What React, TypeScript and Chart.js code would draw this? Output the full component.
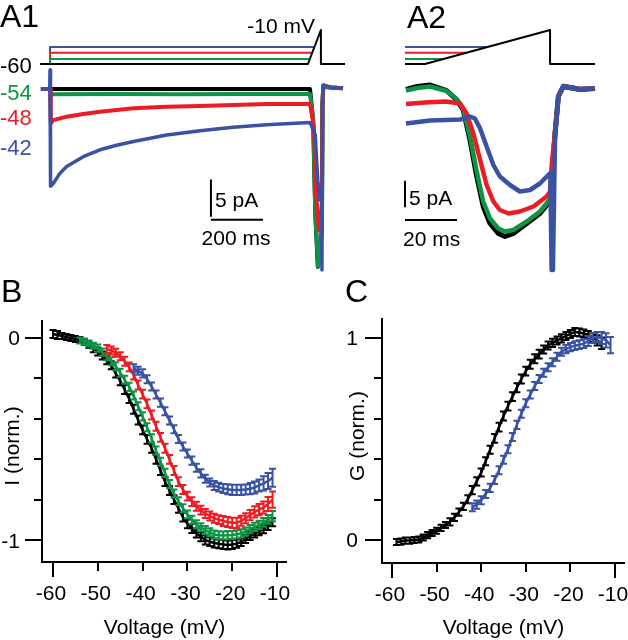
import React, { useEffect, useRef } from "react";
import { Chart, registerables } from "chart.js";

Chart.register(...registerables);

const FONT = '"Liberation Sans", Arial, Helvetica, sans-serif';
const COL_BLACK = "#000000";
const COL_GREEN = "#0d9444";
const COL_RED = "#ed1c24";
const COL_BLUE = "#3a52a3";

// ================= Panel A1 (time in ms, current in pA, command in mV) =================
const a1ProtoBlackT = [-38, 992, 1042, 1042, 1135];
const a1ProtoBlackV = [-60, -60, -10, -60, -60];
const a1ProtoGreenT = [0, 0, 999];
const a1ProtoGreenV = [-60, -52.6, -52.6];
const a1ProtoRedT = [0, 0, 1008];
const a1ProtoRedV = [-60, -43.6, -43.6];
const a1ProtoBlueT = [0, 0, 1017];
const a1ProtoBlueV = [-60, -35, -35];

const a1BlackT = [-35, 0, 250, 500, 750, 1000, 1012, 1020, 1030, 1040, 1046, 1048, 1051, 1080, 1127];
const a1BlackI = [0, 0, 0, 0, 0, 0, -4, -16, -23.4, -21, -18, -2, 0.3, 0.2, 0.1];
const a1GreenT = [-35, 0, 4, 250, 500, 750, 1000, 1012, 1021, 1031, 1040, 1046, 1048, 1051, 1080, 1127];
const a1GreenI = [0, 0, -0.7, -0.66, -0.7, -0.66, -0.66, -4, -17, -23.4, -21, -18, -2, 0.3, 0.2, 0.1];
const a1RedT = [-35, 0, 3, 13, 64, 128, 192, 321, 449, 577, 705, 833, 1000, 1015, 1024, 1034, 1042, 1046, 1048, 1051, 1080, 1127];
const a1RedI = [0, 0, -4.5, -4.1, -3.64, -3.3, -2.98, -2.54, -2.33, -2.24, -2.1, -1.97, -1.97, -5, -14, -18.6, -17, -15, -2, 0.5, 0.2, 0.1];
const a1BlueT = [-35, -1, 0, 2, 13, 38, 64, 128, 192, 256, 321, 449, 577, 705, 833, 1000, 1020, 1030, 1038, 1044, 1046, 1048, 1051, 1080, 1127];
const a1BlueI = [0, 0, 2.5, -12.8, -12.4, -11.1, -10.2, -8.9, -8.0, -7.4, -6.9, -6.05, -5.5, -5.04, -4.7, -4.4, -6, -12, -14.6, -13, -23.8, -2, 0.5, 0.2, 0.1];

const a1BarVT = [619, 619];
const a1BarVI = [-12, -16.7];
const a1BarHT = [619, 819];
const a1BarHI = [-17.2, -17.2];

const a1HoldLabels = ["-60", "-54", "-48", "-42"];

// ================= Panel A2 =================
const a2ProtoBlackT = [-7.7, 0, 48.1, 48.1, 65.4];
const a2ProtoBlackV = [-60, -60, -10, -60, -60];
const a2ProtoGreenT = [-7.7, 7.1];
const a2ProtoGreenV = [-52.6, -52.6];
const a2ProtoRedT = [-7.7, 15.8];
const a2ProtoRedV = [-43.6, -43.6];
const a2ProtoBlueT = [-7.7, 24.1];
const a2ProtoBlueV = [-35, -35];

const a2BlackT = [-7.3, -3, 2, 8.3, 12.2, 14.7, 17.3, 19.9, 22.4, 25, 28.2, 30.8, 34, 39.1, 44.2, 47.4, 48.3, 50, 51.3, 53.2, 59.6, 65.4];
const a2BlackI = [-0.3, 0.3, 0.6, -0.5, -2.4, -4.4, -10.4, -17.7, -23.7, -27.1, -29.1, -29.7, -29.1, -27.1, -25.1, -23.1, -22.5, -9.1, -1.7, 0.3, -0.3, -0.1];
const a2GreenT = [-7.3, -3, 2, 8.3, 12.2, 14.7, 17.3, 19.9, 22.4, 25, 28.2, 30.8, 34, 39.1, 44.2, 47.4, 48.3, 50, 51.3, 53.2, 59.6, 65.4];
const a2GreenI = [-0.5, 0, 0.3, -0.6, -2.2, -4.2, -9.7, -16.7, -22.7, -26.1, -28.1, -28.7, -28.4, -26.7, -24.7, -22.7, -22, -9, -1.7, 0.3, -0.3, -0.1];
const a2RedT = [-7.3, 0, 8, 13.5, 16, 18.6, 21.2, 23.7, 26.3, 28.8, 32.1, 36.5, 41.7, 46.8, 48.1, 48.8, 50, 51.3, 53.2, 59.6, 65.4];
const a2RedI = [-3.2, -2.9, -2.7, -3.1, -5.1, -9.1, -14.4, -19.4, -22.7, -24.4, -25.1, -24.7, -23.7, -21.7, -20.7, -15, -9, -1.7, 0.4, -0.2, -0.1];
const a2BlueT = [-7.3, 1.9, 13.5, 17.3, 19.2, 21.2, 23.7, 26.3, 28.8, 32.7, 36.5, 40.4, 44.2, 47.4, 48.2, 48.7, 49.2, 50, 51.3, 53.2, 59.6, 65.4];
const a2BlueI = [-7.1, -6.5, -6.3, -5.7, -6.1, -8.1, -11.7, -15.4, -17.7, -19.4, -20.7, -20.4, -19.1, -17.4, -17, -36.4, -36.4, -10.4, -1.7, 0.4, -0.2, -0.1];

const a2BarVT = [-7.7, -7.7];
const a2BarVI = [-18.7, -23.7];
const a2BarHT = [-7.7, 12.3];
const a2BarHI = [-26.4, -26.4];

// ================= Panel B: I (norm.) vs voltage =================
function range(a: number, b: number): number[] {
  const r: number[] = [];
  for (let v = a; v <= b; v++) r.push(v);
  return r;
}
const bBlackV = range(-60, -11);
const bBlackI = [0.02, 0.015, 0.01, 0.005, 0, -0.005, -0.01, -0.02, -0.033, -0.05,
  -0.067, -0.087, -0.11, -0.135, -0.175, -0.212, -0.255, -0.3, -0.353, -0.406,
  -0.455, -0.502, -0.546, -0.6, -0.656, -0.711, -0.755, -0.8, -0.843, -0.887,
  -0.92, -0.943, -0.965, -0.984, -1.0, -1.008, -1.015, -1.019, -1.022, -1.025,
  -1.022, -1.018, -1.01, -0.995, -0.98, -0.968, -0.957, -0.946, -0.93, -0.912];
const bBlackErr = [0.02, 0.02, 0.015, 0.015, 0.015, 0.015, 0.015, 0.015, 0.015, 0.02,
  0.02, 0.02, 0.02, 0.02, 0.02, 0.022, 0.022, 0.022, 0.022, 0.022,
  0.022, 0.022, 0.022, 0.022, 0.022, 0.022, 0.022, 0.022, 0.022, 0.022,
  0.022, 0.022, 0.022, 0.022, 0.022, 0.022, 0.022, 0.022, 0.022, 0.022,
  0.022, 0.02, 0.02, 0.02, 0.02, 0.02, 0.02, 0.02, 0.02, 0.02];

const bGreenV = range(-54, -11);
const bGreenI = [-0.012, -0.018, -0.027, -0.038,
  -0.05, -0.07, -0.092, -0.115, -0.14, -0.172, -0.207, -0.242, -0.285, -0.338,
  -0.388, -0.442, -0.497, -0.557, -0.613, -0.667, -0.723, -0.77, -0.808, -0.843,
  -0.874, -0.9, -0.922, -0.937, -0.951, -0.962, -0.973, -0.977, -0.978, -0.976,
  -0.975, -0.972, -0.967, -0.958, -0.946, -0.935, -0.925, -0.913, -0.898, -0.882];
const bGreenErr = [0.015, 0.015, 0.015, 0.015,
  0.018, 0.018, 0.018, 0.02, 0.02, 0.02, 0.02, 0.02, 0.02, 0.02,
  0.02, 0.02, 0.02, 0.02, 0.02, 0.02, 0.02, 0.02, 0.02, 0.02,
  0.02, 0.02, 0.02, 0.02, 0.02, 0.02, 0.02, 0.02, 0.02, 0.02,
  0.02, 0.02, 0.02, 0.02, 0.02, 0.02, 0.02, 0.022, 0.022, 0.025];

const bRedV = range(-48, -11);
const bRedI = [-0.055, -0.062, -0.073, -0.09, -0.115, -0.143, -0.183, -0.233,
  -0.278, -0.326, -0.381, -0.437, -0.492, -0.546, -0.601, -0.656, -0.711, -0.75,
  -0.783, -0.81, -0.833, -0.852, -0.869, -0.881, -0.892, -0.899, -0.906, -0.911,
  -0.915, -0.915, -0.905, -0.892, -0.877, -0.861, -0.85, -0.839, -0.822, -0.8];
const bRedErr = [0.02, 0.02, 0.02, 0.02, 0.022, 0.022, 0.022, 0.022,
  0.022, 0.022, 0.022, 0.022, 0.022, 0.022, 0.022, 0.022, 0.022, 0.022,
  0.022, 0.022, 0.022, 0.022, 0.022, 0.022, 0.022, 0.022, 0.025, 0.025,
  0.025, 0.025, 0.025, 0.025, 0.025, 0.028, 0.028, 0.03, 0.035, 0.04];

const bBlueV = range(-42, -11);
const bBlueI = [-0.15, -0.162,
  -0.175, -0.204, -0.24, -0.28, -0.32, -0.363, -0.408, -0.452, -0.5, -0.537,
  -0.572, -0.607, -0.642, -0.67, -0.697, -0.715, -0.73, -0.738, -0.745, -0.749,
  -0.752, -0.752, -0.752, -0.75, -0.746, -0.74, -0.73, -0.72, -0.708, -0.692];
const bBlueErr = [0.02, 0.02,
  0.02, 0.02, 0.02, 0.02, 0.02, 0.02, 0.02, 0.02, 0.02, 0.02,
  0.02, 0.02, 0.02, 0.02, 0.02, 0.02, 0.022, 0.022, 0.022, 0.025,
  0.025, 0.025, 0.025, 0.025, 0.028, 0.03, 0.03, 0.035, 0.04, 0.045];

// ================= Panel C: G (norm.) vs voltage =================
const cBlackV = range(-59, -13);
const cBlackG = [-0.01, -0.008, -0.003, -0.003, 0, 0.002, 0.012, 0.024, 0.035,
  0.046, 0.06, 0.074, 0.09, 0.112, 0.138, 0.166, 0.202, 0.247, 0.29,
  0.334, 0.39, 0.447, 0.503, 0.559, 0.614, 0.663, 0.71, 0.754, 0.797,
  0.836, 0.87, 0.897, 0.92, 0.943, 0.963, 0.976, 0.988, 0.998, 1.01,
  1.02, 1.03, 1.027, 1.022, 1.015, 1.002, 0.988, 0.974];
const cBlackErr = [0.015, 0.015, 0.015, 0.015, 0.015, 0.015, 0.015, 0.015, 0.015,
  0.015, 0.015, 0.015, 0.018, 0.018, 0.018, 0.018, 0.02, 0.02, 0.02,
  0.02, 0.02, 0.02, 0.022, 0.022, 0.022, 0.022, 0.022, 0.022, 0.022,
  0.022, 0.022, 0.022, 0.022, 0.02, 0.02, 0.02, 0.02, 0.02, 0.02,
  0.02, 0.02, 0.02, 0.02, 0.02, 0.022, 0.025, 0.028];

const cBlueV = range(-42, -11);
const cBlueG = [0.162, 0.175,
  0.197, 0.228, 0.258, 0.297, 0.345, 0.397, 0.449, 0.51, 0.57, 0.625,
  0.677, 0.72, 0.762, 0.797, 0.828, 0.855, 0.88, 0.907, 0.932, 0.945,
  0.955, 0.962, 0.967, 0.972, 0.985, 1.0, 1.005, 1.0, 0.988, 0.965];
const cBlueErr = [0.02, 0.02,
  0.02, 0.02, 0.02, 0.02, 0.02, 0.02, 0.02, 0.02, 0.02, 0.02,
  0.02, 0.02, 0.02, 0.02, 0.02, 0.02, 0.02, 0.02, 0.02, 0.02,
  0.02, 0.022, 0.022, 0.022, 0.025, 0.025, 0.025, 0.03, 0.035, 0.04];

// ================= Axis ticks =================
const ivXTicks = [-60, -50, -40, -30, -20, -10];
const ivXTickLabels = ["-60", "-50", "-40", "-30", "-20", "-10"];
const ivXMajor = [-60, -10];
const bYTicks = [0, -0.2, -0.4, -0.6, -0.8, -1];
const bYTickLabels = ["0", "", "", "", "", "-1"];
const cYTicks = [0, 0.2, 0.4, 0.6, 0.8, 1];
const cYTickLabels = ["0", "", "", "", "", "1"];

// ================= helpers =================
function xy(t: number[], v: number[]) {
  return t.map((x, i) => ({ x, y: v[i] }));
}

function lineDs(data: any[], color: string, width: number, order: number, yAxisID = "y", extra: any = {}) {
  return {
    data,
    borderColor: color,
    backgroundColor: color,
    borderWidth: width,
    pointRadius: 0,
    pointHoverRadius: 0,
    tension: 0,
    fill: false,
    order,
    yAxisID,
    borderJoinStyle: "round",
    borderCapStyle: "butt",
    ...extra,
  };
}

type TextItem = {
  text: string;
  x: number;
  y: number;
  color?: string;
  size?: number;
  align?: CanvasTextAlign;
  baseline?: CanvasTextBaseline;
  rotate?: boolean;
};

function textPlugin(items: TextItem[]) {
  return {
    id: "texts",
    afterDraw(chart: any) {
      const ctx: CanvasRenderingContext2D = chart.ctx;
      for (const it of items) {
        ctx.save();
        ctx.font = `${it.size ?? 21}px ${FONT}`;
        ctx.fillStyle = it.color ?? COL_BLACK;
        ctx.textAlign = it.align ?? "left";
        ctx.textBaseline = it.baseline ?? "alphabetic";
        ctx.translate(it.x, it.y);
        if (it.rotate) ctx.rotate(-Math.PI / 2);
        ctx.fillText(it.text, 0, 0);
        ctx.restore();
      }
    },
  };
}

function axesPlugin(xTicks: number[], xLabels: string[], xMajor: number[], yTicks: number[], yLabels: string[], yLabelRight: number) {
  return {
    id: "customAxes",
    afterDraw(chart: any) {
      const ctx: CanvasRenderingContext2D = chart.ctx;
      const a = chart.chartArea;
      const xs = chart.scales.x;
      const ys = chart.scales.y;
      ctx.save();
      ctx.strokeStyle = COL_BLACK;
      ctx.lineWidth = 2;
      ctx.lineCap = "butt";
      ctx.lineJoin = "miter";
      ctx.beginPath();
      ctx.moveTo(a.left, a.top);
      ctx.lineTo(a.left, a.bottom);
      ctx.lineTo(a.right, a.bottom);
      ctx.stroke();
      ctx.beginPath();
      yTicks.forEach((v, i) => {
        const py = Math.round(ys.getPixelForValue(v));
        const len = yLabels[i] ? 17 : 8;
        ctx.moveTo(a.left - len, py);
        ctx.lineTo(a.left, py);
      });
      xTicks.forEach((v) => {
        const px = Math.round(xs.getPixelForValue(v));
        const len = xMajor.includes(v) ? 15 : 9;
        ctx.moveTo(px, a.bottom);
        ctx.lineTo(px, a.bottom + len);
      });
      ctx.stroke();
      ctx.fillStyle = COL_BLACK;
      ctx.font = `21px ${FONT}`;
      ctx.textBaseline = "alphabetic";
      ctx.textAlign = "center";
      xTicks.forEach((v, i) => {
        ctx.fillText(xLabels[i], xs.getPixelForValue(v) - 2, a.bottom + 38);
      });
      ctx.textAlign = "right";
      yTicks.forEach((v, i) => {
        if (!yLabels[i]) return;
        ctx.fillText(yLabels[i], yLabelRight, ys.getPixelForValue(v) + 7.5);
      });
      ctx.restore();
    },
  };
}

const errorBarPlugin = {
  id: "errorBars",
  afterDatasetDraw(chart: any, args: any) {
    const ds = chart.data.datasets[args.index];
    if (!ds || !ds.errors) return;
    const meta = args.meta;
    const ys = chart.scales[meta.yAxisID];
    const ctx: CanvasRenderingContext2D = chart.ctx;
    ctx.save();
    ctx.strokeStyle = ds.borderColor;
    ctx.lineWidth = 2;
    ctx.beginPath();
    meta.data.forEach((pt: any, i: number) => {
      const d = ds.data[i];
      const e = ds.errors[i];
      const x = pt.x;
      const y1 = ys.getPixelForValue(d.y + e);
      const y2 = ys.getPixelForValue(d.y - e);
      ctx.moveTo(x, y1);
      ctx.lineTo(x, y2);
      ctx.moveTo(x - 3.5, y1);
      ctx.lineTo(x + 3.5, y1);
      ctx.moveTo(x - 3.5, y2);
      ctx.lineTo(x + 3.5, y2);
    });
    ctx.stroke();
    ctx.restore();
  },
};

function baseOptions(scales: any, padding: any) {
  return {
    responsive: false,
    maintainAspectRatio: false,
    animation: false as const,
    events: [] as any[],
    layout: { padding },
    plugins: { legend: { display: false }, tooltip: { enabled: false } },
    scales,
  };
}

function hiddenLinear(min: number, max: number) {
  return { type: "linear", display: false, min, max, bounds: "data", grace: 0 };
}

// ================= chart builders =================
function makeA1(): any {
  return {
    type: "line",
    data: {
      datasets: [
        lineDs(xy(a1ProtoBlackT, a1ProtoBlackV), COL_BLACK, 2, 8, "yv"),
        lineDs(xy(a1ProtoGreenT, a1ProtoGreenV), COL_GREEN, 2, 9, "yv"),
        lineDs(xy(a1ProtoRedT, a1ProtoRedV), COL_RED, 2, 9, "yv"),
        lineDs(xy(a1ProtoBlueT, a1ProtoBlueV), COL_BLUE, 2, 9, "yv"),
        lineDs(xy(a1BlackT, a1BlackI), COL_BLACK, 4, 4),
        lineDs(xy(a1GreenT, a1GreenI), COL_GREEN, 4, 3),
        lineDs(xy(a1RedT, a1RedI), COL_RED, 4, 2),
        lineDs(xy(a1BlueT, a1BlueI), COL_BLUE, 3.5, 1),
        lineDs(xy(a1BarVT, a1BarVI), COL_BLACK, 2, 0),
        lineDs(xy(a1BarHT, a1BarHI), COL_BLACK, 2, 0),
      ],
    },
    options: baseOptions(
      {
        x: hiddenLinear(-192.31, 1269.23),
        y: hiddenLinear(-25.13, 11.71),
        yv: hiddenLinear(-377.65, 34.12),
      },
      0
    ),
    plugins: [
      textPlugin([
        { text: "A1", x: 0, y: 27, size: 32 },
        { text: a1HoldLabels[0], x: 0, y: 73, color: COL_BLACK, size: 22 },
        { text: a1HoldLabels[1], x: 0, y: 100, color: COL_GREEN, size: 22 },
        { text: a1HoldLabels[2], x: 0, y: 125, color: COL_RED, size: 22 },
        { text: a1HoldLabels[3], x: 0, y: 155, color: COL_BLUE, size: 22 },
        { text: "-10 mV", x: 315, y: 33, size: 21, align: "right" },
        { text: "5 pA", x: 215, y: 207, size: 21 },
        { text: "200 ms", x: 236, y: 245, size: 21, align: "center" },
      ]),
    ],
  };
}

function makeA2(): any {
  return {
    type: "line",
    data: {
      datasets: [
        lineDs(xy(a2ProtoBlackT, a2ProtoBlackV), COL_BLACK, 2, 8, "yv"),
        lineDs(xy(a2ProtoGreenT, a2ProtoGreenV), COL_GREEN, 2, 9, "yv"),
        lineDs(xy(a2ProtoRedT, a2ProtoRedV), COL_RED, 2, 9, "yv"),
        lineDs(xy(a2ProtoBlueT, a2ProtoBlueV), COL_BLUE, 2, 9, "yv"),
        lineDs(xy(a2BlackT, a2BlackI), COL_BLACK, 5, 4),
        lineDs(xy(a2GreenT, a2GreenI), COL_GREEN, 4.5, 3),
        lineDs(xy(a2RedT, a2RedI), COL_RED, 4.5, 2),
        lineDs(xy(a2BlueT, a2BlueI), COL_BLUE, 4.5, 1),
        lineDs(xy(a2BarVT, a2BarVI), COL_BLACK, 2, 0),
        lineDs(xy(a2BarHT, a2BarHI), COL_BLACK, 2, 0),
      ],
    },
    options: baseOptions(
      {
        x: hiddenLinear(-17.31, 78.08),
        y: hiddenLinear(-38.4, 17.6),
        yv: hiddenLinear(-377.65, 34.12),
      },
      0
    ),
    plugins: [
      textPlugin([
        { text: "A2", x: 27, y: 28, size: 32 },
        { text: "5 pA", x: 29, y: 205, size: 21 },
        { text: "20 ms", x: 23, y: 246, size: 21 },
      ]),
    ],
  };
}

function makeB(): any {
  return {
    type: "line",
    data: {
      datasets: [
        lineDs(xy(bBlackV, bBlackI), COL_BLACK, 2.5, 4, "y", { errors: bBlackErr }),
        lineDs(xy(bGreenV, bGreenI), COL_GREEN, 2.5, 3, "y", { errors: bGreenErr }),
        lineDs(xy(bRedV, bRedI), COL_RED, 2.5, 2, "y", { errors: bRedErr }),
        lineDs(xy(bBlueV, bBlueI), COL_BLUE, 2.5, 1, "y", { errors: bBlueErr }),
      ],
    },
    options: baseOptions(
      {
        x: hiddenLinear(-62.455, -7.768),
        y: hiddenLinear(-1.1089, 0.0891),
      },
      { left: 42, top: 40, right: 27, bottom: 78 }
    ),
    plugins: [
      errorBarPlugin,
      axesPlugin(ivXTicks, ivXTickLabels, ivXMajor, bYTicks, bYTickLabels, 20),
      textPlugin([
        { text: "B", x: 1, y: 22, size: 32 },
        { text: "I (norm.)", x: 13, y: 166, size: 21, rotate: true, align: "center", baseline: "middle" },
        { text: "Voltage (mV)", x: 164.5, y: 354, size: 21, align: "center" },
      ]),
    ],
  };
}

function makeC(): any {
  return {
    type: "line",
    data: {
      datasets: [
        lineDs(xy(cBlackV, cBlackG), COL_BLACK, 2.5, 2, "y", { errors: cBlackErr }),
        lineDs(xy(cBlueV, cBlueG), COL_BLUE, 2.5, 1, "y", { errors: cBlueErr }),
      ],
    },
    options: baseOptions(
      {
        x: hiddenLinear(-62.24, -7.76),
        y: hiddenLinear(-0.1139, 1.099),
      },
      { left: 68, top: 38, right: 3, bottom: 77 }
    ),
    plugins: [
      errorBarPlugin,
      axesPlugin(ivXTicks, ivXTickLabels, ivXMajor, cYTicks, cYTickLabels, 44),
      textPlugin([
        { text: "C", x: 31, y: 22, size: 32 },
        { text: "G (norm.)", x: 44, y: 156, size: 21, rotate: true, align: "center", baseline: "middle" },
        { text: "Voltage (mV)", x: 189.5, y: 354, size: 21, align: "center" },
      ]),
    ],
  };
}

function ChartCanvas(props: { left: number; top: number; width: number; height: number; make: () => any }) {
  const ref = useRef<HTMLCanvasElement | null>(null);
  useEffect(() => {
    if (!ref.current) return;
    const chart = new Chart(ref.current, props.make());
    return () => chart.destroy();
  }, []);
  return (
    <canvas
      ref={ref}
      width={props.width}
      height={props.height}
      style={{ position: "absolute", left: props.left, top: props.top, width: props.width, height: props.height }}
    />
  );
}

export default function App() {
  return (
    <div style={{ position: "absolute", left: 0, top: 0, width: 628, height: 640, background: "#ffffff", overflow: "hidden" }}>
      <ChartCanvas left={0} top={0} width={380} height={280} make={makeA1} />
      <ChartCanvas left={380} top={0} width={248} height={280} make={makeA2} />
      <ChartCanvas left={0} top={280} width={314} height={360} make={makeB} />
      <ChartCanvas left={314} top={280} width={314} height={360} make={makeC} />
    </div>
  );
}
